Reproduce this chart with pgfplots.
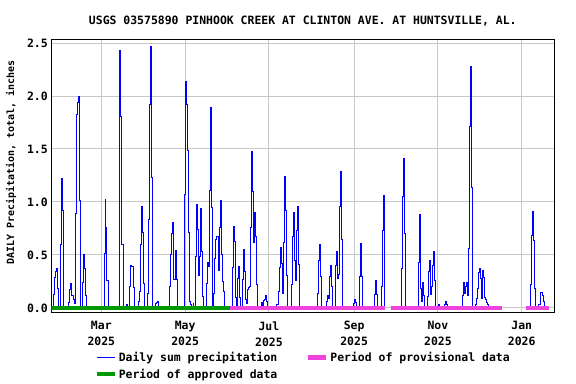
\documentclass[border=0pt]{standalone}
\usepackage{pgfplots}
\pgfplotsset{compat=1.18}
\usepackage{fontspec}
\setmainfont{DejaVu Sans Mono}
\definecolor{usgsblue}{RGB}{0,0,255}
\definecolor{approved}{RGB}{0,153,0}
\definecolor{provisional}{RGB}{238,68,221}
\definecolor{gridgrey}{RGB}{200,200,200}
\newcommand{\uf}{\fontsize{11.5}{16.2}\selectfont\bfseries}
\pgfplotsset{
  bluelegend/.style={legend image code/.code={\draw[usgsblue, line width=1.2bp] (0bp,0bp) -- (18bp,0bp);}},
  provlegend/.style={legend image code/.code={\draw[provisional, line width=4.5bp] (0bp,0bp) -- (18bp,0bp);}},
  applegend/.style={legend image code/.code={\draw[approved, line width=4.5bp] (0bp,0bp) -- (18bp,0bp);}},
}
\begin{document}
\begin{tikzpicture}
\path[use as bounding box] (0bp,0bp) rectangle (576bp,-384bp);
\begin{axis}[
  at={(51.3bp,-312.3bp)}, anchor=south west,
  scale only axis, width=503bp, height=273bp,
  xmin=22.6, xmax=388.7, ymin=-0.041, ymax=2.535,
  xtick={59,120,181,243,304,365},
  xticklabels={{Mar\\2025},{May\\2025},{Jul\\2025},{Sep\\2025},{Nov\\2025},{Jan\\2026}},
  xticklabel style={align=center, font=\uf, yshift=-5.5bp},
  ytick={0,0.5,1,1.5,2,2.5},
  yticklabel style={font=\uf, /pgf/number format/.cd, fixed, fixed zerofill, precision=1, /tikz/.cd},
  /pgf/number format/assume math mode=true,
  grid=major, major grid style={gridgrey, line width=1bp},
  major tick length=0pt,
  axis line style={line width=1bp},
  unbounded coords=jump,
  title={USGS 03575890 PINHOOK CREEK AT CLINTON AVE. AT HUNTSVILLE, AL.},
  title style={font=\uf, at={(axis description cs:0.5,1)}, anchor=center, yshift=12bp},
  ylabel={DAILY Precipitation, total, inches},
  ylabel style={font=\fontsize{10}{12}\selectfont\bfseries, at={(axis description cs:-0.080,0.55)}, anchor=center},
  legend columns=2,
  legend cell align=left,
  legend style={fill=none, font=\uf, at={(axis description cs:0.085,-0.137)}, anchor=north west,
    inner sep=0pt, row sep=2bp, /tikz/every even column/.append style={column sep=26.5bp}},
  every axis legend/.append style={draw=none},
]
\addplot[usgsblue, line width=1bp, const plot, mark=none, bluelegend] coordinates {
(22.8,0) (24.2,0.13) (24.9,0.29) (25.6,0.34) (26.3,0.37) (27.1,0.18) (27.6,0)
(29.0,0.60) (29.7,1.22) (30.5,0.92) (31.2,0.31) (31.7,0)
(34.8,0.05) (35.55,0.17) (36.3,0.23) (37.0,0.12) (37.7,0.12) (38.45,0.08) (39.2,0.04)
(39.9,0.89) (40.6,1.83) (41.35,1.94) (42.1,2.00) (42.8,1.01) (43.5,0)
(45.0,0.24) (45.7,0.50) (46.4,0.37) (47.2,0.12) (47.9,0)
(61.0,0.51) (61.7,1.02) (62.4,0.76) (63.1,0.26) (63.9,0)
(71.9,1.21) (72.6,2.43) (73.3,1.81) (74.0,0.60) (74.8,0)
(77.2,0.03) (77.7,0)
(79.85,0.20) (80.6,0.40) (81.3,0.39) (82.0,0.39) (82.75,0.19) (83.5,0)
(86.4,0.06) (87.1,0.16) (87.8,0.60) (88.6,0.96) (89.3,0.71) (90.0,0.23) (90.7,0)
(92.9,0.14) (93.6,0.83) (94.4,1.92) (95.1,2.47) (95.8,1.23) (96.5,0)
(98.7,0.04) (99.5,0.05) (100.2,0.06) (100.9,0)
(108.9,0.20) (109.6,0.50) (110.3,0.70) (111.1,0.81) (111.8,0.27) (113.0,0.54) (114.0,0.27) (114.8,0)
(119.8,1.07) (120.5,2.14) (121.2,1.92) (122.0,1.49) (122.7,0.71) (123.4,0.06) (124.1,0.03) (124.8,0)
(125.8,0.04) (126.3,0)
(127.8,0.49) (128.5,0.98) (129.2,0.74) (130.0,0.31) (130.7,0.49) (131.4,0.94) (132.1,0.53) (132.9,0.11) (133.6,0)
(135.8,0.23) (136.5,0.43) (137.2,0.39) (138.0,1.11) (138.7,1.89) (139.4,0.95) (140.1,0)
(140.9,0.14) (141.6,0.47) (142.3,0.65) (143.0,0.67) (144.5,0.35) (145.2,0.76) (145.9,1.01) (146.6,0.50) (147.4,0.25) (148.1,0.16) (148.8,0)
(154.6,0.38) (155.4,0.77) (156.1,0.63) (156.8,0.10) (157.5,0)
(158.3,0.28) (159.0,0.39) (159.7,0.10) (160.4,0)
(161.9,0.27) (162.6,0.55) (163.4,0.34) (164.1,0.08) (164.8,0.04) (165.5,0.17) (166.3,0.19) (167.0,0.20)
(167.7,0.76) (168.4,1.48) (169.2,1.10) (169.9,0.62) (170.6,0.90) (171.3,0.67) (172.1,0.22) (172.8,0)
(175.7,0.05) (176.4,0) (177.2,0.07) (177.9,0.08) (178.6,0.12) (179.3,0.06) (180.0,0)
(186.8,0.03) (187.6,0.08) (188.3,0.16) (189.0,0.38) (189.75,0.57) (190.5,0.42) (191.2,0.14)
(191.9,0.62) (192.65,1.24) (193.4,0.92) (194.1,0.31) (194.8,0)
(197.5,0.22) (198.2,0.67) (198.9,0.90) (199.7,0.45) (200.4,0.26) (201.1,0.73) (201.8,0.96) (202.6,0.41) (203.3,0)
(216.4,0.14) (217.1,0.45) (217.8,0.60) (218.55,0.30) (219.3,0)
(222.9,0.06) (223.6,0.12) (224.4,0.09) (225.1,0.30) (225.8,0.40) (226.5,0.20) (227.2,0)
(229.45,0.40) (230.2,0.53) (230.9,0.28) (231.6,0.32) (232.35,0.96) (233.1,1.29) (233.8,0.65) (234.5,0)
(242.5,0.04) (243.2,0.08) (244.0,0.05) (244.7,0)
(246.9,0.30) (247.6,0.61) (248.3,0.30) (249.0,0)
(257.8,0.13) (258.5,0.26) (259.2,0.13) (259.9,0)
(262.85,0.20) (263.6,0.73) (264.3,1.06) (265.0,0) (265.2,0)
(267.0,nan)
(269.6,0)
(277.4,0.37) (278.1,1.05) (278.8,1.41) (279.55,0.70) (280.3,0)
(289.7,0.43) (290.4,0.88) (291.2,0.18) (291.9,0.06) (292.6,0.24) (293.35,0.12) (294.1,0)
(296.25,0.11) (297.0,0.34) (297.7,0.45) (298.4,0.13) (299.2,0.20) (299.9,0.40) (300.6,0.53) (301.3,0.26) (302.0,0)
(304.2,0.03) (304.9,0)
(308.6,0.03) (309.3,0.06) (310.0,0.03) (310.7,0)
(321.7,0.12) (322.4,0.24) (323.1,0.14) (323.85,0.20) (324.6,0.24) (325.3,0.12) (326.0,0.56)
(326.75,1.71) (327.5,2.28) (328.2,1.14) (328.9,0)
(331.1,0.03) (331.8,0.09) (332.6,0.18) (333.3,0.33) (334.0,0.37) (334.7,0.28) (335.5,0.09) (336.2,0.35) (336.9,0.29) (337.6,0.10) (338.4,0.08) (339.1,0.05) (339.8,0.03) (340.5,0)
(350.5,0)
(359.0,nan)
(368.4,0)
(371.05,0.22) (371.8,0.68) (372.5,0.91) (373.2,0.64) (374.0,0.18) (374.7,0)
(376.85,0.03) (377.6,0.03) (378.3,0.08) (379.0,0.15) (379.8,0.12) (380.5,0.06) (381.2,0)
(384.8,0)
};
\addlegendentry{Daily sum precipitation}
\addplot[provisional, line width=4.5bp, mark=none, provlegend] coordinates {
(152.5,0) (265.2,0) (267.0,nan) (269.6,0) (350.5,0) (359.0,nan) (368.4,0) (384.8,0)
};
\addlegendentry{Period of provisional data}
\addplot[approved, line width=4.5bp, mark=none, applegend] coordinates {
(22.6,0) (152.5,0)
};
\addlegendentry{Period of approved data}
\end{axis}
\end{tikzpicture}
\end{document}
